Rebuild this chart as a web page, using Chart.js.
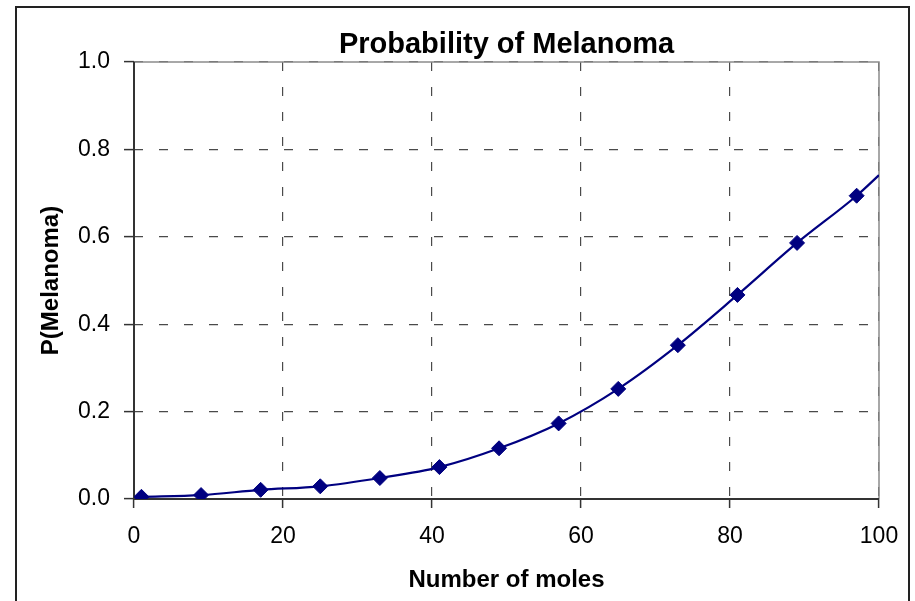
<!DOCTYPE html>
<html>
<head>
<meta charset="utf-8">
<script src="https://cdn.jsdelivr.net/npm/chart.js@4/dist/chart.umd.min.js"></script>
<style>
  html, body { margin: 0; padding: 0; background: #fff; }
  #wrap { position: relative; width: 915px; height: 601px; overflow: hidden; }
  #frame { position: absolute; left: 15px; top: 6px; width: 891px; height: 640px; border: 2px solid #222; pointer-events: none; }
  canvas { position: absolute; left: 0; top: 0; }
</style>
</head>
<body>
<div id="wrap">
  <canvas id="c" width="915" height="601"></canvas>
  <div id="frame"></div>
</div>
<script>
// Data
const moles = [1, 9, 17, 25, 33, 41, 49, 57, 65, 73, 81, 89, 97];
const pMelanoma = [0.005, 0.009, 0.021, 0.029, 0.048, 0.073, 0.116, 0.173, 0.252, 0.352, 0.467, 0.586, 0.694];
// fitted curve continues to the plot edge
const curveEndX = 100;
const curveEndY = 0.741;
const xTicks = [0, 20, 40, 60, 80, 100];
const yTicks = [0.0, 0.2, 0.4, 0.6, 0.8, 1.0];

const markerPoints = moles.map((m, i) => ({ x: m, y: pMelanoma[i] }));
const curvePoints = markerPoints.concat([{ x: curveEndX, y: curveEndY }]);

const FONT = "'Liberation Sans', Arial, sans-serif";

const frameLines = {
  id: 'frameLines',
  beforeDatasetsDraw(chart) {
    const a = chart.chartArea, ctx = chart.ctx;
    ctx.save();
    ctx.strokeStyle = '#8c8c8c';
    ctx.lineWidth = 1.5;
    ctx.setLineDash([]);
    ctx.beginPath();
    ctx.moveTo(a.left, a.top);
    ctx.lineTo(a.right, a.top);
    ctx.lineTo(a.right, a.bottom);
    ctx.stroke();
    ctx.strokeStyle = '#333';
    ctx.lineWidth = 2;
    ctx.beginPath();
    ctx.moveTo(a.left, a.top);
    ctx.lineTo(a.left, a.bottom);
    ctx.lineTo(a.right, a.bottom);
    ctx.stroke();
    ctx.restore();
  }
};

new Chart(document.getElementById('c'), {
  type: 'line',
  data: {
    datasets: [
      {
        label: 'fit',
        data: curvePoints,
        borderColor: '#000080',
        borderWidth: 2.2,
        pointRadius: 0,
        cubicInterpolationMode: 'monotone',
        fill: false,
        order: 2
      },
      {
        label: 'P(Melanoma)',
        data: markerPoints,
        showLine: false,
        pointStyle: 'rectRot',
        pointRadius: 7.5,
        pointBackgroundColor: '#000080',
        pointBorderColor: '#000080',
        pointBorderWidth: 1,
        order: 1
      }
    ]
  },
  options: {
    responsive: false,
    animation: false,
    devicePixelRatio: 1,
    layout: { padding: { left: 0, right: 36, top: 0, bottom: 0 } },
    plugins: {
      legend: { display: false },
      tooltip: { enabled: false },
      title: {
        display: true,
        fullSize: false,
        text: 'Probability of Melanoma',
        color: '#000',
        font: { family: FONT, size: 29, weight: 'bold', lineHeight: 1.1 },
        padding: { top: 29, bottom: 1.1 }
      }
    },
    scales: {
      x: {
        type: 'linear',
        min: 0,
        max: 100,
        afterBuildTicks: (s) => { s.ticks = xTicks.map(v => ({ value: v })); },
        afterFit: (s) => { s.height = 102; },
        ticks: {
          color: '#000',
          font: { family: FONT, size: 23 },
          padding: 15,
          maxRotation: 0,
          callback: (v) => String(v)
        },
        grid: {
          color: '#4a4a4a',
          lineWidth: 1.2,
          tickLength: 9,
          tickColor: '#333',
          tickWidth: 1.5,
          tickBorderDash: []
        },
        border: { display: false, dash: [9, 16] },
        title: {
          display: true,
          text: 'Number of moles',
          color: '#000',
          font: { family: FONT, size: 24, weight: 'bold', lineHeight: 1.2 },
          padding: { top: 0, bottom: 6 }
        }
      },
      y: {
        type: 'linear',
        min: 0,
        max: 1,
        afterBuildTicks: (s) => { s.ticks = yTicks.map(v => ({ value: v })); },
        afterFit: (s) => { s.width = 134; },
        ticks: {
          color: '#000',
          font: { family: FONT, size: 23 },
          padding: 14,
          callback: (v) => Number(v).toFixed(1)
        },
        grid: {
          color: '#4a4a4a',
          lineWidth: 1.2,
          tickLength: 10,
          tickColor: '#333',
          tickWidth: 1.5,
          tickBorderDash: []
        },
        border: { display: false, dash: [9, 16] },
        title: {
          display: true,
          text: 'P(Melanoma)',
          color: '#000',
          font: { family: FONT, size: 24, weight: 'bold', lineHeight: 1.2 },
          padding: { top: 37, bottom: 0 }
        }
      }
    }
  },
  plugins: [frameLines]
});
</script>
</body>
</html>
